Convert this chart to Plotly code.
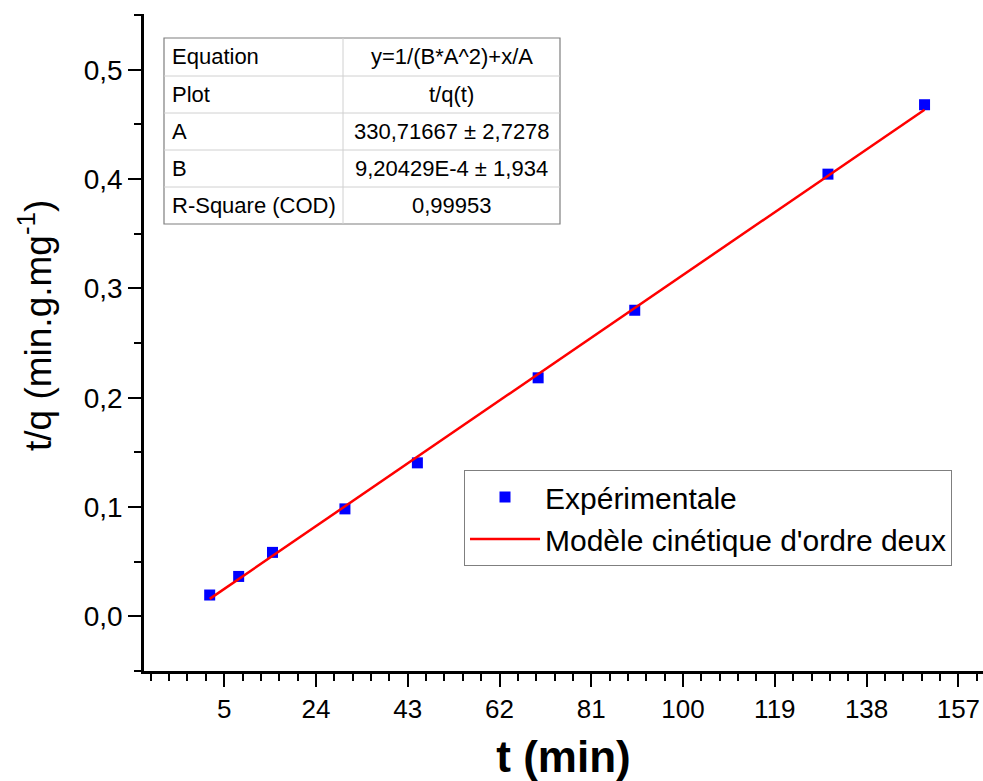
import plotly.graph_objects as go

# ---- data ----
t_min = [2, 8, 15, 30, 45, 70, 90, 130, 150]
t_over_q = [0.0195, 0.0365, 0.0585, 0.0983, 0.1404, 0.2182, 0.2800, 0.4045, 0.4680]

# fit parameters (from table)
A_fit = 330.71667
B_fit = 9.20429e-4

table_labels = ["Equation", "Plot", "A", "B", "R-Square (COD)"]
table_values = ["y=1/(B*A^2)+x/A", "t/q(t)", "330,71667 ± 2,7278",
                "9,20429E-4 ± 1,934", "0,99953"]

x_tickvals = [5, 24, 43, 62, 81, 100, 119, 138, 157]
y_tickvals = [0.0, 0.1, 0.2, 0.3, 0.4, 0.5]

x_title = "<b>t (min)</b>"
y_title = "t/q (min.g.mg<sup>-1</sup>)"

# model line evaluated at the first and last experimental times
fit_x = [t_min[0], t_min[-1]]
fit_y = [1 / (B_fit * A_fit ** 2) + x / A_fit for x in fit_x]

# body margin is removed by a post script -> figure origin at (0, 0)
OFF = 0
W, H = 983, 781
ML, MR, MT, MB = 144, 0, 14, 110
PW, PH = W - ML - MR, H - MT - MB

def px(x):
    return (x - OFF - ML) / PW

def py(y):
    return 1 - (y - OFF - MT) / PH

FONT = "Arial, Liberation Sans, sans-serif"

fig = go.Figure()
fig.add_trace(go.Scatter(
    x=t_min, y=t_over_q, mode="markers", name="Expérimentale",
    marker=dict(symbol="square", size=11, color="#0000ff",
                line=dict(width=0))))
fig.add_trace(go.Scatter(
    x=fit_x, y=fit_y, mode="lines", name="Modèle cinétique d'ordre deux",
    line=dict(color="#ff0000", width=2.5)))

# ---- table ----
left, mid, right = 164, 343, 560
rows = [38, 76, 113, 150, 187, 224]
shapes = []
shapes.append(dict(type="rect", xref="paper", yref="paper",
                   x0=px(left), x1=px(right), y0=py(rows[-1]), y1=py(rows[0]),
                   line=dict(color="#7f7f7f", width=1.2), fillcolor="white",
                   layer="below"))
for r in rows[1:-1]:
    shapes.append(dict(type="line", xref="paper", yref="paper",
                       x0=px(left), x1=px(right), y0=py(r), y1=py(r),
                       line=dict(color="#d0d0d0", width=1)))
shapes.append(dict(type="line", xref="paper", yref="paper",
                   x0=px(mid), x1=px(mid), y0=py(rows[0]), y1=py(rows[-1]),
                   line=dict(color="#d0d0d0", width=1)))

annotations = []
for i, (lab, val) in enumerate(zip(table_labels, table_values)):
    yc = (rows[i] + rows[i + 1]) / 2
    annotations.append(dict(xref="paper", yref="paper", x=px(left + 6), y=py(yc),
                            text=lab, showarrow=False, xanchor="left",
                            yanchor="middle",
                            font=dict(family=FONT, size=22, color="black")))
    annotations.append(dict(xref="paper", yref="paper", x=px((mid + right) / 2),
                            y=py(yc), text=val, showarrow=False,
                            xanchor="center", yanchor="middle",
                            font=dict(family=FONT, size=22, color="black")))

# y-axis title
annotations.append(dict(xref="paper", yref="paper", x=px(36), y=py(325),
                        text=y_title, showarrow=False, textangle=-90,
                        xanchor="center", yanchor="middle",
                        font=dict(family=FONT, size=37, color="black")))

fig.update_layout(
    width=W, height=H,
    margin=dict(l=ML, r=MR, t=MT, b=MB),
    paper_bgcolor="white", plot_bgcolor="white",
    separators=", ",
    font=dict(family=FONT, color="black"),
    shapes=shapes, annotations=annotations,
    legend=dict(x=px(464), y=py(470), xanchor="left", yanchor="top",
                bgcolor="white", bordercolor="#7f7f7f", borderwidth=1,
                font=dict(family=FONT, size=30, color="black"),
                itemwidth=70, tracegroupgap=0),
    xaxis=dict(range=[-11.6, 162.1], tickvals=x_tickvals,
               showgrid=False, zeroline=False,
               showline=True, linecolor="black", linewidth=2.5,
               ticks="outside", ticklen=13, tickwidth=2, tickcolor="black",
               tickfont=dict(family=FONT, size=26, color="black"),
               minor=dict(dtick=3.8, tick0=5, ticks="outside", ticklen=7,
                          tickwidth=2, tickcolor="black", showgrid=False),
               title=dict(text=x_title, standoff=20,
                          font=dict(family=FONT, size=44, color="black"))),
    yaxis=dict(range=[-0.05, 0.551], tickvals=y_tickvals, tickformat=".1f",
               showgrid=False, zeroline=False,
               showline=True, linecolor="black", linewidth=2.5,
               ticks="outside", ticklen=13, tickwidth=2, tickcolor="black",
               tickfont=dict(family=FONT, size=28, color="black"),
               minor=dict(dtick=0.05, tick0=0, ticks="outside", ticklen=7,
                          tickwidth=2, tickcolor="black", showgrid=False)),
)

fig.write_html(
    "out.html",
    config={"displayModeBar": False},
    post_script="document.body.style.margin='0px';"
                "document.body.style.overflow='hidden';",
)
